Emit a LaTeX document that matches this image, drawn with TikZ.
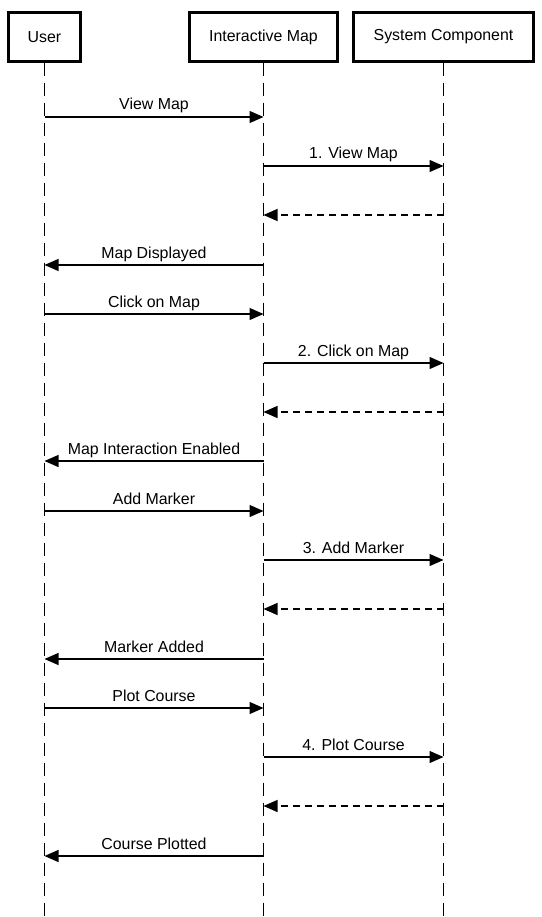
\documentclass[tikz,border=0pt]{standalone}
\usepackage{fontspec}
\setmainfont{Liberation Sans}
\usetikzlibrary{arrows.meta}
\begin{document}
\begin{tikzpicture}[x=1pt,y=-1pt,
  txt/.style={font=\fontsize{15.9}{18}\selectfont},
  actor/.style={txt,draw,line width=2.2pt,minimum height=49pt,inner sep=0pt},
  life/.style={line width=1.3pt,dash pattern=on 13pt off 7pt},
  msg/.style={line width=1.2pt,-{Triangle[length=14pt,width=12pt]}},
  ret/.style={msg,dash pattern=on 7pt off 5pt},
  lbl/.style={txt,anchor=base,inner sep=0pt,yshift=7pt}]
\useasboundingbox (0,0) rectangle (541,917);
\node[actor,minimum width=72pt] (U) at (44.5,37) {User};
\node[actor,minimum width=148pt] (I) at (263.5,37) {Interactive Map};
\node[actor,minimum width=180pt] (S) at (443.5,37) {System Component};
\coordinate (Uend) at (44.5,917);
\coordinate (Iend) at (263.5,917);
\coordinate (Send) at (443.5,917);
\draw[life] (U.south) -- (Uend);
\draw[life] (I.south) -- (Iend);
\draw[life] (S.south) -- (Send);
% rows
\foreach \r/\y in {1/117,2/166,3/215,4/265,5/314,6/363,7/412,8/461,9/511,10/560,11/609,12/659,13/708,14/757,15/806,16/856}{
  \coordinate (U\r) at (U.south |- 0,\y);
  \coordinate (I\r) at (I.south |- 0,\y);
  \coordinate (S\r) at (S.south |- 0,\y);
}
\draw[msg] (U1) -- node[lbl] (t1) {View Map} (I1);
\draw[msg] (I2) -- node[lbl] (t2) {1. View Map} (S2);
\draw[ret] (S3) -- (I3);
\draw[msg] (I4) -- node[lbl] (t4) {Map Displayed} (U4);
\draw[msg] (U5) -- node[lbl] (t5) {Click on Map} (I5);
\draw[msg] (I6) -- node[lbl] (t6) {2. Click on Map} (S6);
\draw[ret] (S7) -- (I7);
\draw[msg] (I8) -- node[lbl] (t8) {Map Interaction Enabled} (U8);
\draw[msg] (U9) -- node[lbl] (t9) {Add Marker} (I9);
\draw[msg] (I10) -- node[lbl] (t10) {3. Add Marker} (S10);
\draw[ret] (S11) -- (I11);
\draw[msg] (I12) -- node[lbl] (t12) {Marker Added} (U12);
\draw[msg] (U13) -- node[lbl] (t13) {Plot Course} (I13);
\draw[msg] (I14) -- node[lbl] (t14) {4. Plot Course} (S14);
\draw[ret] (S15) -- (I15);
\draw[msg] (I16) -- node[lbl] (t16) {Course Plotted} (U16);
\end{tikzpicture}
\end{document}
